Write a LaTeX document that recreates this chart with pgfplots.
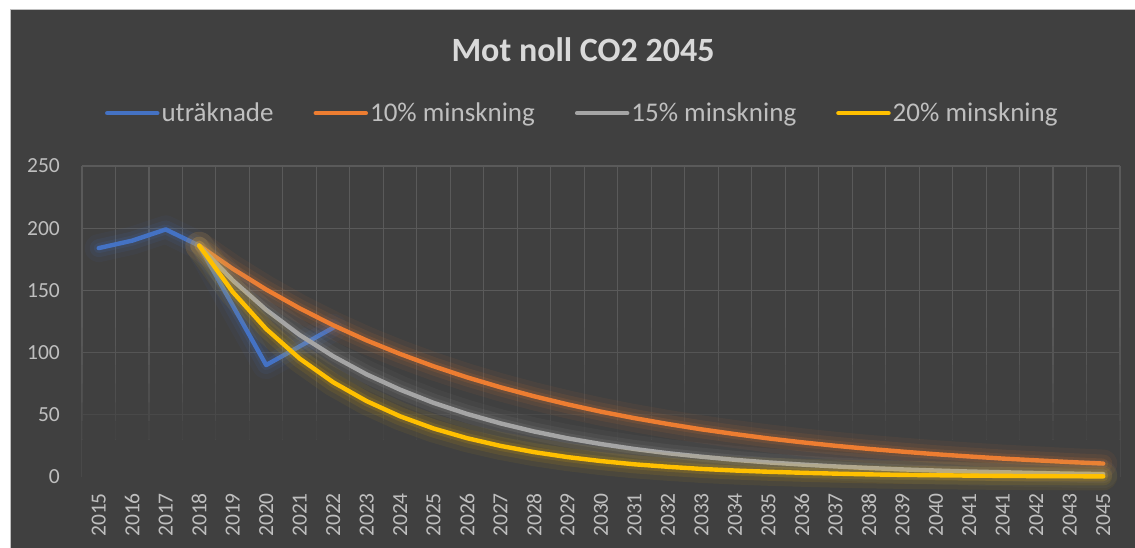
\documentclass[border=0pt]{standalone}
\usepackage{fontspec}
\setmainfont{Carlito}
\usepackage{pgfplots}
\pgfplotsset{compat=1.18}
\definecolor{bg}{HTML}{404040}
\definecolor{cblue}{HTML}{4472C4}
\definecolor{corange}{HTML}{ED7D31}
\definecolor{cgrey}{HTML}{A5A5A5}
\definecolor{cyellow}{HTML}{FFC000}
\definecolor{txt}{HTML}{BFBFBF}
\definecolor{ttl}{HTML}{D9D9D9}
\definecolor{gridc}{HTML}{5A5A5A}
\tikzset{
  glowA/.style={line width=28pt, opacity=0.06, line join=round, line cap=round},
  glowB/.style={line width=18pt, opacity=0.09, line join=round, line cap=round},
  glowC/.style={line width=10pt, opacity=0.13, line join=round, line cap=round},
  ser/.style={line width=4.4pt, line join=round, line cap=round},
}
\pgfplotsset{set layers,
  fadeband/.style={forget plot, on layer=pre main, draw=none, fill=bg, fill opacity=#1}}
\pgfplotstableread{
x blue
0 184
1 190
2 199
3 186
4 138
5 90
6 105
7 120
}\tblue
\pgfplotstableread{
x o g y
3 186 186 186
4 167.4 158.1 148.8
5 150.7 134.4 119.0
6 135.6 114.2 95.2
7 122.0 97.1 76.2
8 109.8 82.5 61.0
9 98.9 70.2 48.8
10 89.0 59.6 39.0
11 80.1 50.7 31.2
12 72.1 43.1 25.0
13 64.9 36.6 20.0
14 58.4 31.1 16.0
15 52.5 26.5 12.8
16 47.3 22.5 10.2
17 42.6 19.1 8.2
18 38.3 16.3 6.5
19 34.5 13.8 5.2
20 31.0 11.7 4.2
21 27.9 10.0 3.4
22 25.1 8.5 2.7
23 22.6 7.2 2.1
24 20.4 6.1 1.7
25 18.3 5.2 1.4
26 16.5 4.4 1.1
27 14.8 3.8 0.9
28 13.4 3.2 0.7
29 12.0 2.7 0.6
30 10.8 2.3 0.5
}\tred
\begin{document}
\begin{tikzpicture}
\begin{pgfonlayer}{axis background}
\fill[white] (0,0) rectangle (1135pt,548pt);
\fill[bg] (10pt,0) rectangle (1135pt,539pt);
\draw[gray!50, line width=0.8pt] (10pt,0pt) -- (10pt,539pt) -- (1135pt,539pt);
\end{pgfonlayer}
\node[font=\fontsize{34}{40}\selectfont\bfseries, text=ttl] at (583pt,498pt) {Mot noll CO2 2045};
\begin{axis}[
  clip=false,
  at={(82pt,71pt)}, anchor=south west, scale only axis,
  width=1038pt, height=311pt,
  xmin=-0.5, xmax=30.5, ymin=0, ymax=250,
  axis line style={draw=none},
  tick style={draw=none},
  major tick length=0pt, minor tick length=0pt,
  xtick={0,...,30},
  xticklabels={2015,2016,2017,2018,2019,2020,2021,2022,2023,2024,2025,2026,2027,2028,2029,2030,2031,2032,2033,2034,2035,2036,2037,2038,2039,2040,2041,2041,2042,2043,2045},
  minor xtick={-0.5,0.5,...,30.5},
  xminorgrids, xmajorgrids=false,
  ytick={0,50,100,150,200,250},
  ymajorgrids,
  grid style={gridc, line width=1.1pt},
  minor grid style={gridc, line width=1.1pt},
  /pgf/number format/assume math mode=true,
  x tick label style={rotate=90, anchor=east, inner sep=0pt, font=\fontsize{21.5}{24}\selectfont, text=txt},
  xticklabel shift=16pt,
  y tick label style={anchor=east, inner sep=0pt, font=\fontsize{21.5}{24}\selectfont, text=txt},
  yticklabel shift=22pt,
  legend columns=4,
  legend style={at={(0.482,1.170)}, anchor=center, draw=none, fill=none, text=txt,
    font=\fontsize{27}{30}\selectfont, inner sep=0pt,
    /tikz/every even column/.append style={column sep=38pt}},
  legend cell align=left,
  legend image code/.code={\draw[line width=4.5pt, line cap=round] (0pt,0pt) -- (50pt,0pt);},
]
% fading of the gridlines towards the bottom
\addplot[fadeband=1]    coordinates {(-0.52,-2)(30.52,-2)(30.52,30)(-0.52,30)(-0.52,-2)};
\addplot[fadeband=0.85] coordinates {(-0.52,30)(30.52,30)(30.52,45)(-0.52,45)(-0.52,30)};
\addplot[fadeband=0.65] coordinates {(-0.52,45)(30.52,45)(30.52,60)(-0.52,60)(-0.52,45)};
\addplot[fadeband=0.45] coordinates {(-0.52,60)(30.52,60)(30.52,75)(-0.52,75)(-0.52,60)};
\addplot[fadeband=0.30] coordinates {(-0.52,75)(30.52,75)(30.52,90)(-0.52,90)(-0.52,75)};
\addplot[fadeband=0.18] coordinates {(-0.52,90)(30.52,90)(30.52,105)(-0.52,105)(-0.52,90)};
\addplot[fadeband=0.08] coordinates {(-0.52,105)(30.52,105)(30.52,120)(-0.52,120)(-0.52,105)};

% uträknade
\addplot[forget plot, cblue, glowA] table[x=x, y=blue] {\tblue};
\addplot[forget plot, cblue, glowB] table[x=x, y=blue] {\tblue};
\addplot[forget plot, cblue, glowC] table[x=x, y=blue] {\tblue};
\addplot[cblue, ser] table[x=x, y=blue] {\tblue};
\addlegendentry{uträknade}

% 10%
\addplot[forget plot, corange, glowA] table[x=x, y=o] {\tred};
\addplot[forget plot, corange, glowB] table[x=x, y=o] {\tred};
\addplot[forget plot, corange, glowC] table[x=x, y=o] {\tred};
\addplot[corange, ser] table[x=x, y=o] {\tred};
\addlegendentry{10\% minskning}

% 15%
\addplot[forget plot, cgrey, glowA] table[x=x, y=g] {\tred};
\addplot[forget plot, cgrey, glowB] table[x=x, y=g] {\tred};
\addplot[forget plot, cgrey, glowC] table[x=x, y=g] {\tred};
\addplot[cgrey, ser] table[x=x, y=g] {\tred};
\addlegendentry{15\% minskning}

% 20%
\addplot[forget plot, cyellow, glowA] table[x=x, y=y] {\tred};
\addplot[forget plot, cyellow, glowB] table[x=x, y=y] {\tred};
\addplot[forget plot, cyellow, glowC] table[x=x, y=y] {\tred};
\addplot[cyellow, ser] table[x=x, y=y] {\tred};
\addlegendentry{20\% minskning}
\end{axis}
\pgfresetboundingbox
\useasboundingbox (0,0) rectangle (1135pt,548pt);
\end{tikzpicture}
\end{document}
